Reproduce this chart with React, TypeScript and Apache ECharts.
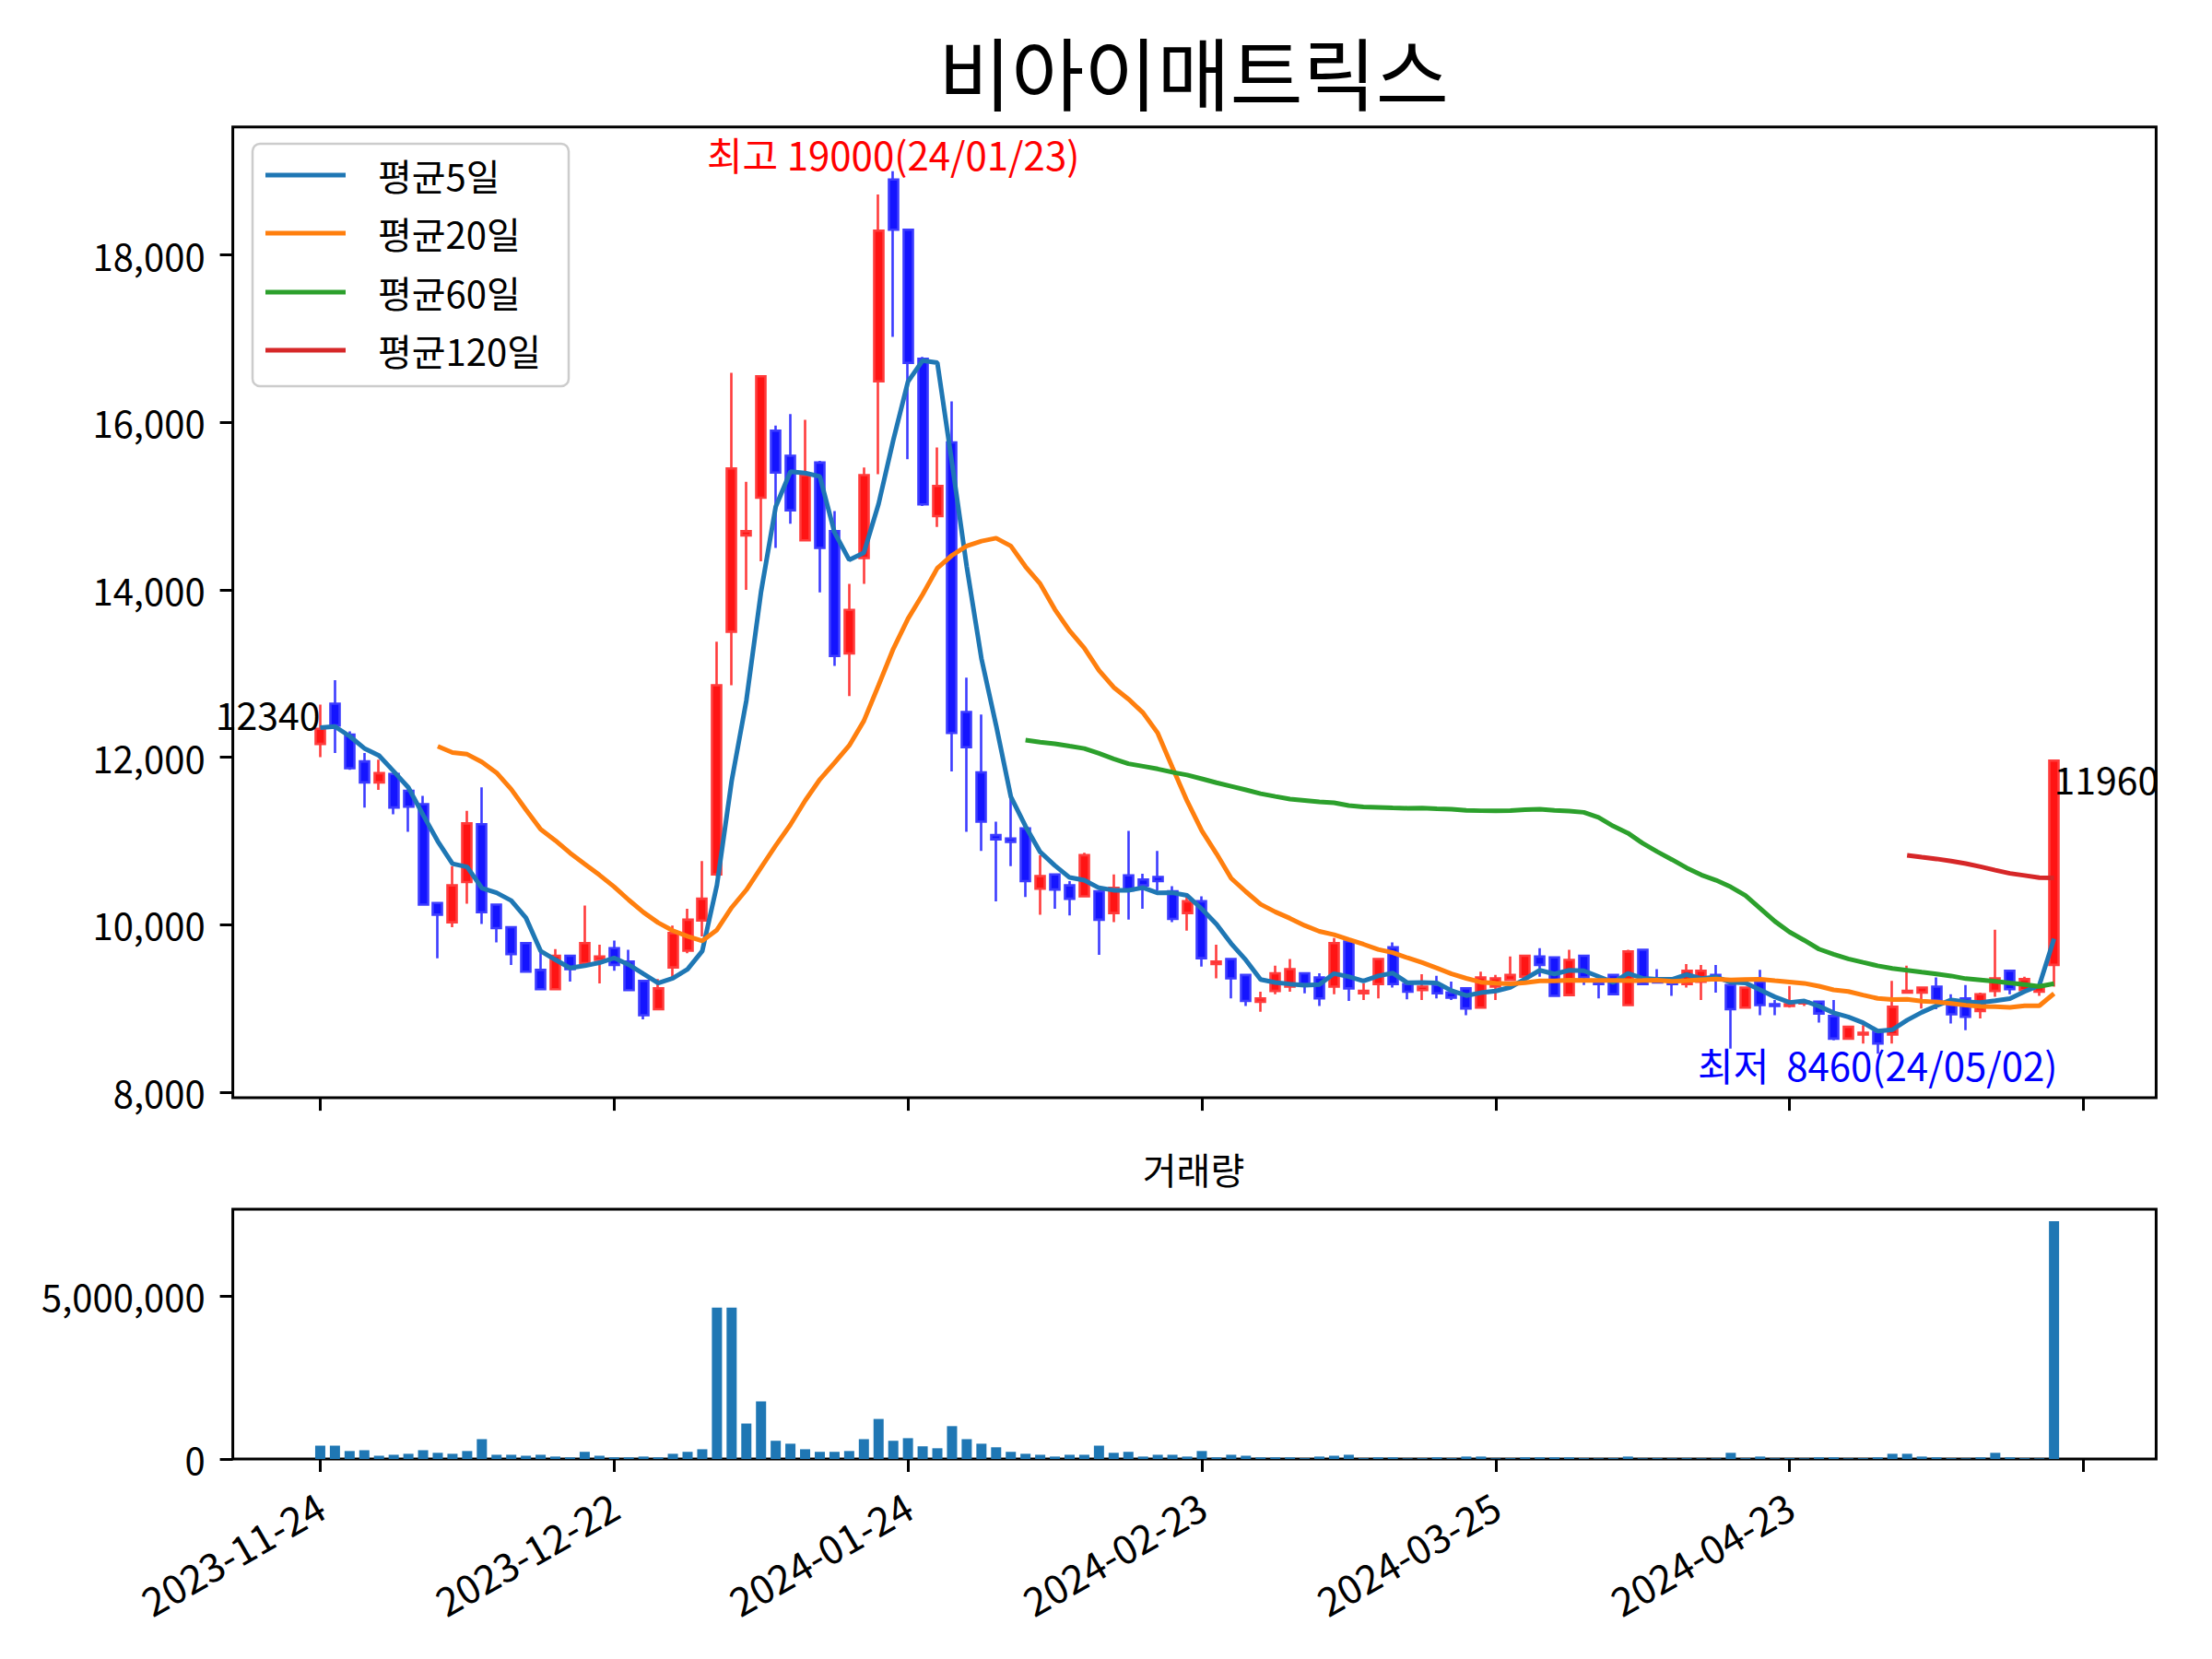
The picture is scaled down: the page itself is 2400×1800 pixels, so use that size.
import React, { useEffect, useRef } from "react";
import * as echarts from "echarts";

// ---------------- data ----------------
const dates = [
  "2023-11-24", "2023-11-27", "2023-11-28", "2023-11-29", "2023-11-30", "2023-12-01", "2023-12-04", "2023-12-05", "2023-12-06", "2023-12-07",
  "2023-12-08", "2023-12-11", "2023-12-12", "2023-12-13", "2023-12-14", "2023-12-15", "2023-12-18", "2023-12-19", "2023-12-20", "2023-12-21",
  "2023-12-22", "2023-12-26", "2023-12-27", "2023-12-28", "2024-01-02", "2024-01-03", "2024-01-04", "2024-01-05", "2024-01-08", "2024-01-09",
  "2024-01-10", "2024-01-11", "2024-01-12", "2024-01-15", "2024-01-16", "2024-01-17", "2024-01-18", "2024-01-19", "2024-01-22", "2024-01-23",
  "2024-01-24", "2024-01-25", "2024-01-26", "2024-01-29", "2024-01-30", "2024-01-31", "2024-02-01", "2024-02-02", "2024-02-05", "2024-02-06",
  "2024-02-07", "2024-02-08", "2024-02-13", "2024-02-14", "2024-02-15", "2024-02-16", "2024-02-19", "2024-02-20", "2024-02-21", "2024-02-22",
  "2024-02-23", "2024-02-26", "2024-02-27", "2024-02-28", "2024-02-29", "2024-03-04", "2024-03-05", "2024-03-06", "2024-03-07", "2024-03-08",
  "2024-03-11", "2024-03-12", "2024-03-13", "2024-03-14", "2024-03-15", "2024-03-18", "2024-03-19", "2024-03-20", "2024-03-21", "2024-03-22",
  "2024-03-25", "2024-03-26", "2024-03-27", "2024-03-28", "2024-03-29", "2024-04-01", "2024-04-02", "2024-04-03", "2024-04-04", "2024-04-05",
  "2024-04-08", "2024-04-09", "2024-04-11", "2024-04-12", "2024-04-15", "2024-04-16", "2024-04-17", "2024-04-18", "2024-04-19", "2024-04-22",
  "2024-04-23", "2024-04-24", "2024-04-25", "2024-04-26", "2024-04-29", "2024-04-30", "2024-05-02", "2024-05-03", "2024-05-07", "2024-05-08",
  "2024-05-09", "2024-05-10", "2024-05-13", "2024-05-14", "2024-05-16", "2024-05-17", "2024-05-20", "2024-05-21", "2024-05-22",
];

const opens = [
  12160, 12640, 12270, 11950, 11700, 11800, 11600, 11440, 10260, 10030,
  10510, 11200, 10240, 9970, 9780, 9460, 9230, 9630, 9540, 9580,
  9720, 9560, 9330, 8990, 9490, 9690, 10050, 10600, 13500, 14650,
  15100, 15900, 15600, 14590, 15520, 14700, 13240, 14380, 16490, 18900,
  18300, 16760, 14880, 15760, 12540, 11820, 11070, 11030, 11150, 10430,
  10600, 10470, 10340, 10400, 10140, 10590, 10540, 10570, 10400, 10140,
  10280, 9530, 9590, 9400, 9080, 9210, 9260, 9420, 9370, 9260,
  9800, 9180, 9290, 9730, 9290, 9220, 9280, 9190, 9240, 9010,
  9260, 9340, 9380, 9620, 9610, 9160, 9630, 9310, 9400, 9040,
  9700, 9330, 9300, 9290, 9320, 9400, 9280, 9010, 9320, 9050,
  9030, 9060, 9080, 8910, 8640, 8690, 8720, 8690, 9190, 9190,
  9260, 9040, 9120, 8970, 9210, 9450, 9220, 9200, 9520,
];

const highs = [
  12630, 12920, 12310, 12050, 11970, 11810, 11620, 11540, 10270, 10700,
  11360, 11640, 10250, 9980, 9790, 9690, 9710, 9640, 10230, 9760,
  9810, 9700, 9340, 9350, 9990, 10190, 10760, 13380, 16590, 15290,
  16560, 15960, 16100, 16030, 15540, 14940, 14070, 15460, 18720, 19000,
  18310, 16780, 15700, 16250, 12950, 12510, 11230, 11520, 11180, 10830,
  10610, 10520, 10860, 10410, 10600, 11120, 10610, 10880, 10460, 10360,
  10340, 9760, 9600, 9410, 9200, 9510, 9590, 9430, 9420, 9840,
  9810, 9300, 9600, 9790, 9300, 9410, 9390, 9320, 9250, 9440,
  9400, 9620, 9640, 9720, 9620, 9700, 9640, 9320, 9410, 9700,
  9710, 9470, 9310, 9530, 9520, 9520, 9320, 9260, 9460, 9100,
  9270, 9110, 9090, 9100, 8790, 8800, 8730, 9330, 9510, 9260,
  9370, 9170, 9280, 9190, 9940, 9460, 9380, 9280, 11970,
];

const lows = [
  12000, 12050, 11850, 11400, 11610, 11320, 11110, 10230, 9600, 9970,
  10250, 10010, 9790, 9520, 9430, 9220, 9220, 9320, 9530, 9300,
  9450, 9210, 8870, 8980, 9350, 9660, 9860, 10580, 12860, 14000,
  14340, 14500, 14790, 14580, 13970, 13090, 12730, 14070, 15380, 17020,
  15560, 15000, 14750, 11830, 11110, 10880, 10280, 10700, 10330, 10120,
  10190, 10110, 10330, 9640, 10030, 10060, 10190, 10410, 10030, 9930,
  9500, 9360, 9120, 9030, 8960, 9170, 9200, 9180, 9030, 9170,
  9090, 9100, 9120, 9250, 9110, 9100, 9120, 9100, 8920, 9000,
  9100, 9330, 9370, 9380, 9140, 9150, 9280, 9120, 9160, 9030,
  9280, 9300, 9150, 9250, 9100, 9190, 8520, 9000, 8920, 8920,
  9010, 9030, 8830, 8620, 8630, 8580, 8460, 8580, 9180, 9000,
  8990, 8820, 8740, 8880, 9140, 9170, 9200, 9150, 9260,
];

const closes = [
  12340, 12380, 11870, 11700, 11810, 11400, 11410, 10240, 10120, 10470,
  11210, 10150, 9960, 9650, 9440, 9230, 9630, 9470, 9780, 9620,
  9520, 9220, 8920, 9240, 9900, 10060, 10310, 12860, 15450, 14700,
  16550, 15400, 14950, 15370, 14500, 13210, 13760, 15370, 18290, 18300,
  16710, 15020, 15240, 12290, 12120, 11230, 11020, 10990, 10520, 10580,
  10420, 10310, 10830, 10060, 10440, 10410, 10470, 10520, 10070, 10280,
  9600, 9560, 9360, 9090, 9120, 9420, 9470, 9290, 9120, 9780,
  9240, 9210, 9590, 9290, 9200, 9260, 9180, 9130, 9000, 9370,
  9360, 9400, 9630, 9520, 9150, 9580, 9370, 9290, 9170, 9680,
  9290, 9310, 9290, 9450, 9450, 9380, 8990, 9250, 9040, 9030,
  9050, 9080, 8940, 8640, 8780, 8710, 8580, 9020, 9210, 9250,
  9100, 8930, 8900, 9170, 9360, 9230, 9350, 9270, 11960,
];

const volumes = [
  410000, 410000, 245000, 270000, 100000, 130000, 160000, 270000, 190000, 160000,
  245000, 610000, 130000, 130000, 100000, 130000, 75000, 50000, 220000, 100000,
  50000, 50000, 75000, 50000, 160000, 220000, 300000, 4650000, 4650000, 1090000,
  1770000, 560000, 470000, 300000, 220000, 220000, 245000, 610000, 1230000, 560000,
  640000, 390000, 330000, 1010000, 610000, 470000, 360000, 220000, 160000, 130000,
  75000, 130000, 130000, 410000, 190000, 220000, 75000, 130000, 130000, 75000,
  245000, 50000, 130000, 100000, 50000, 50000, 50000, 25000, 75000, 100000,
  130000, 25000, 50000, 50000, 20000, 25000, 50000, 25000, 75000, 75000,
  20000, 25000, 50000, 50000, 50000, 50000, 25000, 20000, 25000, 75000,
  20000, 25000, 20000, 25000, 20000, 20000, 190000, 25000, 75000, 20000,
  25000, 20000, 50000, 50000, 20000, 25000, 50000, 160000, 160000, 75000,
  50000, 25000, 20000, 50000, 190000, 50000, 25000, 20000, 7310000,
];

// closes of the 11 sessions before the window (only feed the moving averages)
const priorCloses = [11950, 11610, 12010, 12520, 13600, 14300, 13915, 12310, 12445, 12425, 12245];

const maWindows = [5, 20, 60, 120];
const maLabels = ["평균5일", "평균20일", "평균60일", "평균120일"];
const maColors = ["#1f77b4", "#ff7f0e", "#2ca02c", "#d62728"];
const priceTicks = [8000, 10000, 12000, 14000, 16000, 18000];
const volumeTicks = [0, 5000000];
const dateTickIdx = [0, 20, 40, 60, 80, 100, 120];
const chartTitle = "비아이매트릭스";
const volumeTitle = "거래량";

// ---------------- helpers ----------------
const FONT = '"Noto Sans CJK KR", "Noto Sans", sans-serif';
const fmt = (v: number) => Math.round(v).toLocaleString("en-US");
const shortDate = (d: string) => d.slice(2).replace(/-/g, "/");

function movingAverage(n: number) {
  const full = priorCloses.concat(closes);
  const off = priorCloses.length;
  const out: number[][] = [];
  for (let i = 0; i < closes.length; i++) {
    const end = i + off;
    const start = end - n + 1;
    if (start < 0) continue;
    let s = 0;
    for (let k = start; k <= end; k++) s += full[k];
    out.push([i, s / n]);
  }
  return out;
}

export default function App() {
  const ref = useRef<HTMLDivElement>(null);

  useEffect(() => {
    if (!ref.current) return;
    const chart = echarts.init(ref.current, null, { renderer: "svg" });

    const n = closes.length;
    const xMin = -0.05 * n;
    const xMax = n + 0.05 * n;
    const pMax = Math.max(...highs);
    const pMin = Math.min(...lows);
    const pr = pMax - pMin;
    const yMin = pMin - 0.05 * pr;
    const yMax = pMax + 0.05 * pr;
    const vMax = Math.max(...volumes) * 1.05;

    const G0 = { left: 252.6, top: 137.8, width: 2086.8, height: 1053.3 };
    const G1 = { left: 252.6, top: 1312, width: 2086.8, height: 271 };

    const tickStyle = { show: true, length: 14, inside: false, lineStyle: { color: "#000", width: 3 } };
    const labelStyle = { color: "#000", fontFamily: FONT, fontSize: 40 };

    const candleData = closes.map((c, i) => [i, opens[i], c, lows[i], highs[i]]);

    const option: any = {
      animation: false,
      backgroundColor: "#ffffff",
      grid: [
        { ...G0, show: true, borderColor: "#000", borderWidth: 3, backgroundColor: "transparent", containLabel: false },
        { ...G1, show: true, borderColor: "#000", borderWidth: 3, backgroundColor: "transparent", containLabel: false },
      ],
      xAxis: [
        {
          type: "value", gridIndex: 0, min: xMin, max: xMax,
          axisLine: { show: false, onZero: false },
          axisTick: { ...tickStyle, customValues: dateTickIdx },
          axisLabel: { show: false },
          splitLine: { show: false },
        },
        {
          type: "value", gridIndex: 1, min: xMin, max: xMax,
          axisLine: { show: false, onZero: false },
          axisTick: { ...tickStyle, customValues: dateTickIdx },
          axisLabel: {
            ...labelStyle,
            fontSize: 43,
            customValues: dateTickIdx.filter((v) => v < n),
            rotate: 30,
            margin: 46,
            formatter: (v: number) => dates[Math.round(v)] || "",
          },
          splitLine: { show: false },
        },
      ],
      yAxis: [
        {
          type: "value", gridIndex: 0, min: yMin, max: yMax, scale: true,
          axisLine: { show: false, onZero: false },
          axisTick: { ...tickStyle, customValues: priceTicks },
          axisLabel: { ...labelStyle, customValues: priceTicks, margin: 30, formatter: (v: number) => fmt(v) },
          splitLine: { show: false },
        },
        {
          type: "value", gridIndex: 1, min: 0, max: vMax,
          axisLine: { show: false, onZero: false },
          axisTick: { ...tickStyle, customValues: volumeTicks },
          axisLabel: { ...labelStyle, customValues: volumeTicks, margin: 30, formatter: (v: number) => fmt(v) },
          splitLine: { show: false },
        },
      ],
      series: [
        {
          type: "candlestick",
          xAxisIndex: 0, yAxisIndex: 0,
          barWidth: 10.5,
          data: candleData,
          itemStyle: {
            color: "#ff1414", color0: "#1414ff",
            borderColor: "#ff3c3c", borderColor0: "#3c3cff",
            borderWidth: 2.6,
          },
          z: 2,
        },
        ...maWindows.map((w, k) => ({
          type: "line",
          name: maLabels[k],
          xAxisIndex: 0, yAxisIndex: 0,
          data: movingAverage(w),
          showSymbol: false,
          symbol: "none",
          lineStyle: { color: maColors[k], width: 5 },
          z: 3,
        })),
        {
          type: "bar",
          xAxisIndex: 1, yAxisIndex: 1,
          barWidth: 11,
          data: volumes.map((v, i) => [i, v]),
          itemStyle: { color: "#1f77b4" },
        },
      ],
    };

    chart.setOption(option);

    // annotations placed through the chart's own coordinate conversion
    let hiIdx = 0, loIdx = 0;
    highs.forEach((h, i) => { if (h > highs[hiIdx]) hiIdx = i; });
    lows.forEach((l, i) => { if (l < lows[loIdx]) loIdx = i; });
    const pHi = chart.convertToPixel({ gridIndex: 0 }, [hiIdx, highs[hiIdx]]) as number[];
    const pLo = chart.convertToPixel({ gridIndex: 0 }, [loIdx, lows[loIdx]]) as number[];
    const pFirst = chart.convertToPixel({ gridIndex: 0 }, [0, closes[0]]) as number[];
    const pLast = chart.convertToPixel({ gridIndex: 0 }, [n - 1, closes[n - 1]]) as number[];

    const txt = (text: string, x: number, y: number, fill: string, size: number, align: string, va: string) => ({
      type: "text",
      silent: true,
      style: {
        text, x, y, fill,
        fontSize: size, fontFamily: FONT,
        align, verticalAlign: va,
        textAlign: align, textVerticalAlign: va,
      },
      z: 10,
    });

    const legendX = 274, legendY = 156, legendW = 343, legendH = 263;
    const rowY = [190, 253, 317, 380];
    const legendEls: any[] = [
      {
        type: "rect",
        shape: { x: legendX, y: legendY, width: legendW, height: legendH, r: 8 },
        style: { fill: "rgba(255,255,255,0.85)", stroke: "#cccccc", lineWidth: 2.5 },
        z: 9,
      },
    ];
    maLabels.forEach((lab, k) => {
      legendEls.push({
        type: "line",
        shape: { x1: 288, y1: rowY[k], x2: 375, y2: rowY[k] },
        style: { stroke: maColors[k], lineWidth: 5 },
        z: 10,
      });
      legendEls.push(txt(lab, 410, rowY[k], "#000", 40, "left", "middle"));
    });

    chart.setOption({
      graphic: [
        txt(chartTitle, 1295, 76, "#000", 86, "center", "middle"),
        txt(volumeTitle, 1295, 1268, "#000", 40, "center", "middle"),
        txt(`최고 ${highs[hiIdx]}(${shortDate(dates[hiIdx])})`, pHi[0], pHi[1] + 2, "#ff0000", 42, "center", "bottom"),
        txt(`최저  ${lows[loIdx]}(${shortDate(dates[loIdx])})`, pLo[0], pLo[1] - 10, "#0000ff", 42, "center", "top"),
        txt(`${closes[0]}`, pFirst[0], pFirst[1] + 4, "#000", 41, "right", "bottom"),
        txt(`${closes[n - 1]}`, pLast[0], pLast[1] - 2, "#000", 41, "left", "top"),
        ...legendEls,
      ],
    });

    return () => chart.dispose();
  }, []);

  return (
    <div
      ref={ref}
      style={{ position: "absolute", left: 0, top: 0, width: 2400, height: 1800, background: "#ffffff" }}
    />
  );
}
